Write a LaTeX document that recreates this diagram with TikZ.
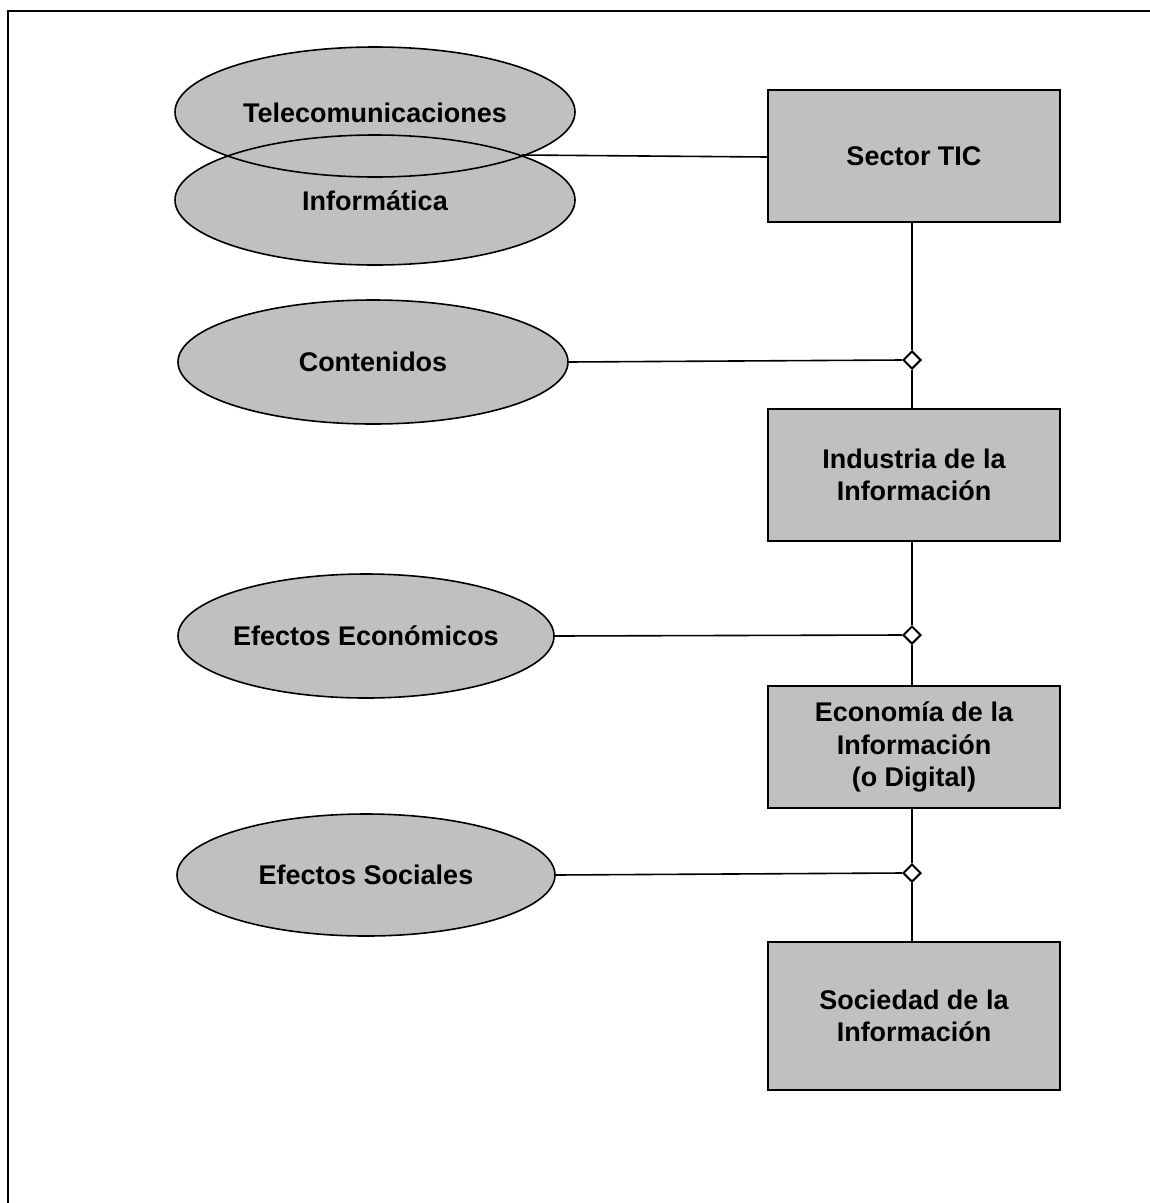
\documentclass[tikz,border=0pt]{standalone}
\usepackage{fontspec}
\setmainfont{Liberation Sans}
\usetikzlibrary{shapes.geometric}
\begin{document}
\begin{tikzpicture}[x=1pt,y=-1pt,
  ellshape/.style={fill={rgb,255:red,192;green,192;blue,192},draw=black,line width=1.6pt},
  lab/.style={font=\fontsize{27}{33}\selectfont\bfseries,align=center},
  boxx/.style={rectangle,draw=black,line width=1.6pt,fill={rgb,255:red,192;green,192;blue,192},minimum width=292pt,inner sep=0pt,font=\fontsize{27}{32.5}\selectfont\bfseries,align=center},
  dia/.style={diamond,draw=black,line width=2pt,fill=white,minimum width=18pt,minimum height=18pt,inner sep=0pt},
  conn/.style={line width=1.6pt}]
\useasboundingbox (0,0) rectangle (1150,1203);
\draw[line width=2pt] (8,1230) -- (8,11) -- (1170,11);
% ellipses
\fill[ellshape,draw=none] (375,112) ellipse [x radius=200, y radius=65];
\fill[ellshape,draw=none] (375,200) ellipse [x radius=200, y radius=65];
\draw[line width=1.6pt] (375,112) ellipse [x radius=200, y radius=65];
\draw[line width=1.6pt] (375,200) ellipse [x radius=200, y radius=65];
\node[lab] (tel) at (375,113) {Telecomunicaciones};
\node[lab] (inf) at (375,201) {Informática};
\coordinate (cross) at (522,155);
\path[ellshape] (373,362) ellipse [x radius=195, y radius=62];
\node[lab] (con) at (373,362) {Contenidos};
\path[ellshape] (366,636) ellipse [x radius=188, y radius=62];
\node[lab] (eco) at (366,636) {Efectos Económicos};
\path[ellshape] (366,875) ellipse [x radius=189, y radius=61];
\node[lab] (soc) at (366,875) {Efectos Sociales};
\coordinate (conR) at (568,362);
\coordinate (ecoR) at (554,636);
\coordinate (socR) at (555,875);
% boxes
\node[boxx,minimum height=132pt] (tic) at (914,156) {Sector TIC};
\node[boxx,minimum height=132pt] (ind) at (914,475) {Industria de la\\Información};
\node[boxx,minimum height=122pt] (ecn) at (914,747) {Economía de la\\Información\\(o Digital)};
\node[boxx,minimum height=148pt] (sdi) at (914,1016) {Sociedad de la\\Información};
% diamonds
\node[dia] (d1) at (912,360) {};
\node[dia] (d2) at (912,635) {};
\node[dia] (d3) at (912,873) {};
% connectors
\draw[conn] (cross) -- (tic.west |- 0,157);
\draw[conn] (tic.south -| d1) -- (d1.north);
\draw[conn] (d1.south) -- (ind.north -| d1);
\draw[conn] (conR) -- (d1.west);
\draw[conn] (ind.south -| d2) -- (d2.north);
\draw[conn] (d2.south) -- (ecn.north -| d2);
\draw[conn] (ecoR) -- (d2.west);
\draw[conn] (ecn.south -| d3) -- (d3.north);
\draw[conn] (d3.south) -- (sdi.north -| d3);
\draw[conn] (socR) -- (d3.west);
\end{tikzpicture}
\end{document}
